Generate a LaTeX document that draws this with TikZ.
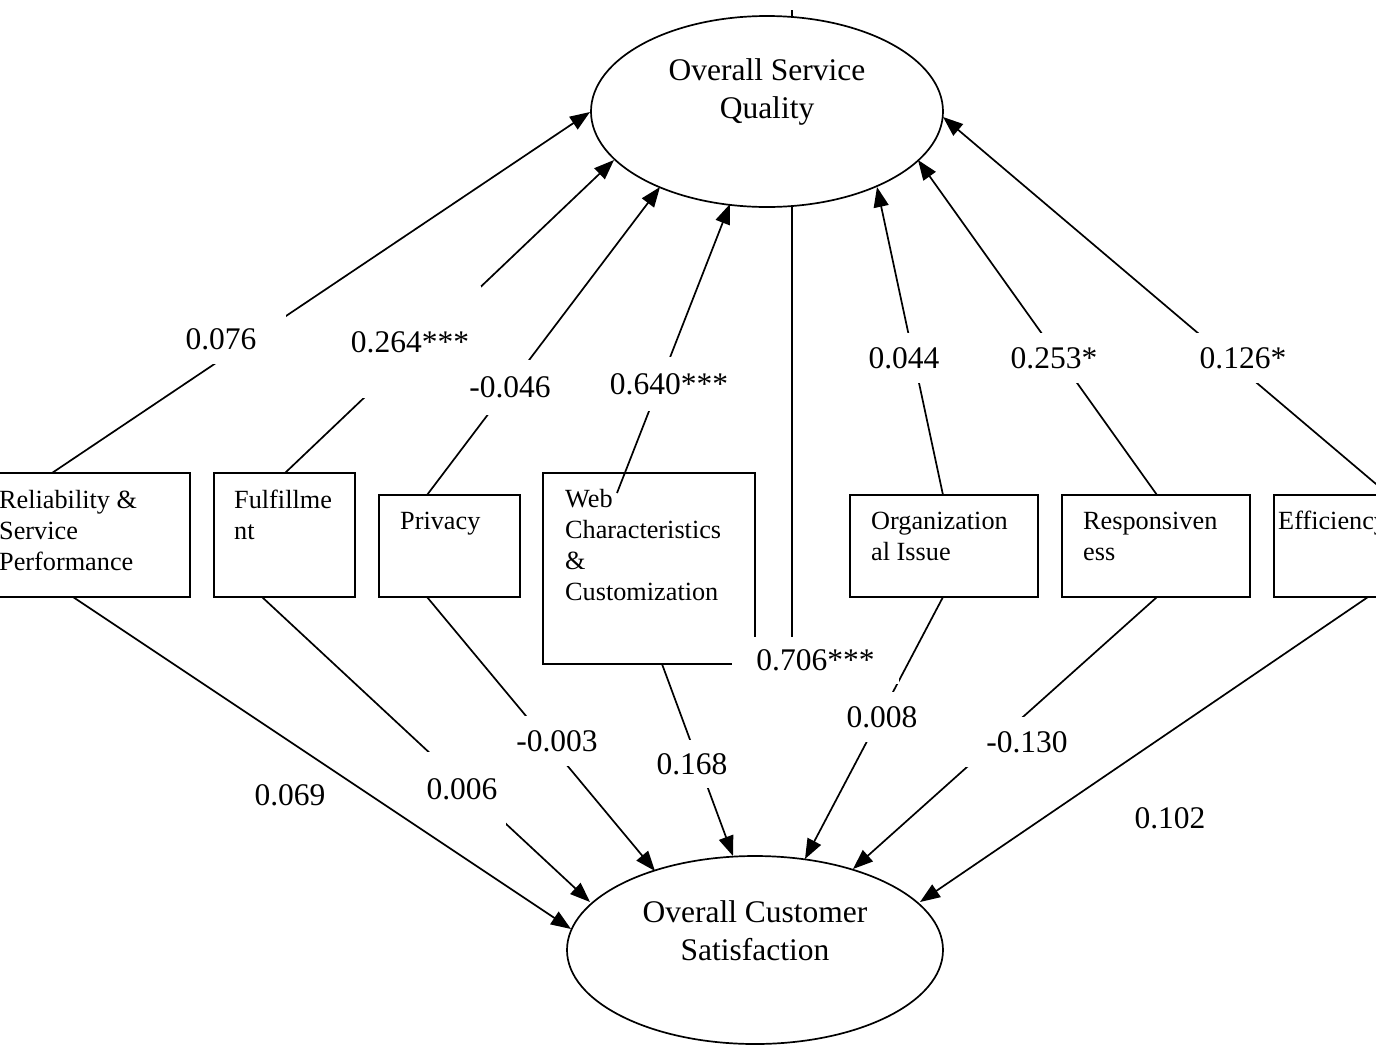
\documentclass[tikz,border=0pt]{standalone}
\usepackage{fontspec}
\setmainfont[Ligatures=CommonOff]{Liberation Serif}
\usetikzlibrary{arrows.meta,shapes.geometric}
\begin{document}
\begin{tikzpicture}[x=1pt,y=-1pt,
  lw/.style={line width=1.7pt},
  box/.style={draw, lw, inner sep=0pt, outer sep=0pt, anchor=north west},
  boxtext/.style={font=\fontsize{26.25}{31}\selectfont, align=left, anchor=north west, inner sep=0pt},
  oval/.style={draw, lw, ellipse, fill=white, inner sep=0pt, outer sep=0pt},
  ovaltext/.style={font=\fontsize{31.5}{38}\selectfont, align=center, inner sep=0pt},
  coef/.style={fill=white, inner sep=0pt, font=\fontsize{31.5}{38}\selectfont},
  link/.style={lw, -{Triangle[length=20pt,width=15pt]}}
]
\useasboundingbox (0,0) rectangle (1376,1045);

% boxes
\node[box, minimum width=220pt, minimum height=124pt] (rel) at (-30,473) {};
\node[box, minimum width=141pt, minimum height=124pt] (ful) at (214,473) {};
\node[box, minimum width=141pt, minimum height=102pt] (pri) at (379,495) {};
\node[box, minimum width=212pt, minimum height=191pt] (web) at (543,473) {};
\node[box, minimum width=188pt, minimum height=102pt] (org) at (850,495) {};
\node[box, minimum width=188pt, minimum height=102pt] (res) at (1062,495) {};
\node[box, minimum width=188pt, minimum height=102pt] (eff) at (1274,495) {};

% ellipses
\coordinate (vtop) at (792,10);
\coordinate (vbot) at (792,637);
\draw[lw] (vtop) -- (vbot);
\node[oval, minimum width=352pt, minimum height=191pt] (osq) at (767,111.5) {};
\node[oval, minimum width=376pt, minimum height=188pt] (ocs) at (755,950) {};
\node[ovaltext] (osqt) at (767,92) {Overall Service\\Quality};
\node[ovaltext] (ocst) at (755,931) {Overall Customer\\Satisfaction};

% anchor points on boxes
\coordinate (relT) at (52,473);   \coordinate (relB) at (73,597);
\coordinate (fulT) at (285,473);  \coordinate (fulB) at (262,597);
\coordinate (priT) at (427,495);  \coordinate (priB) at (427,597);
\coordinate (webT) at (617,493);  \coordinate (webB) at (662,664);
\coordinate (orgT) at (943,495);  \coordinate (orgB) at (943,597);
\coordinate (resT) at (1157,495); \coordinate (resB) at (1157,597);
\coordinate (effT) at (1389,495); \coordinate (effB) at (1368,597);
% arrow tips on ellipses
\coordinate (q1) at (590,112);
\coordinate (q2) at (614,160);
\coordinate (q3) at (660,187);
\coordinate (q4) at (730,204);
\coordinate (q6) at (877,187);
\coordinate (q7) at (918,160);
\coordinate (q8) at (943,117);
\coordinate (s1) at (571,929);
\coordinate (s2) at (590,902);
\coordinate (s3) at (655,871);
\coordinate (s4) at (733,856);
\coordinate (s5) at (805,859);
\coordinate (s6) at (853,869);
\coordinate (s7) at (920,902);

% connectors to service quality
\draw[link] (relT) -- (q1);
\draw[link] (fulT) -- (q2);
\draw[link] (priT) -- (q3);
\draw[link] (webT) -- (q4);
\draw[link] (orgT) -- (q6);
\draw[link] (resT) -- (q7);
\draw[link] (effT) -- (q8);
% connectors to customer satisfaction
\draw[link] (relB) -- (s1);
\draw[link] (fulB) -- (s2);
\draw[link] (priB) -- (s3);
\draw[link] (webB) -- (s4);
\draw[link] (orgB) -- (s5);
\draw[link] (resB) -- (s6);
\draw[link] (effB) -- (s7);

% coefficient labels
\node[coef, minimum width=130pt, minimum height=50pt] (c1) at (221,339) {0.076};
\node[coef, minimum width=142pt, minimum height=112pt] (c2) at (410,342) {0.264***};
\node[coef, minimum width=100pt, minimum height=55pt] (c3) at (510,387) {-0.046};
\node[coef, minimum width=130pt, minimum height=54pt] (c4) at (669,384) {0.640***};
\node[coef, minimum width=167pt, minimum height=47pt] (c5) at (815.5,660.5) {0.706***};
\node[coef, minimum width=90pt, minimum height=50pt] (c6) at (904,358) {0.044};
\node[coef, minimum width=100pt, minimum height=50pt] (c7) at (1054,358) {0.253*};
\node[coef, minimum width=100pt, minimum height=50pt] (c8) at (1243,358) {0.126*};
\node[coef] (d1) at (290,795) {0.069};
\node[coef, minimum width=88pt, minimum height=74pt] (d2) at (462,789) {0.006};
\node[coef, minimum width=90pt, minimum height=50pt] (d3) at (557,741) {-0.003};
\node[coef, minimum width=84pt, minimum height=48pt] (d4) at (692,764) {0.168};
\node[coef, minimum width=90pt, minimum height=50pt] (d5) at (882,717) {0.008};
\node[coef, minimum width=122pt, minimum height=50pt] (d6) at (1027,742) {-0.130};
\node[coef] (d7) at (1170,818) {0.102};

% box texts
\node[boxtext] (relx) at (-1,490) {Reliability \&\\Service\\Performance};
\node[boxtext] (fulx) at (234,490) {Fulfillme\\nt};
\node[boxtext] (prix) at (400,512) {Privacy};
\node[boxtext] (webx) at (565,489) {Web\\Characteristics\\\&\\Customization};
\node[boxtext] (orgx) at (871,512) {Organization\\al Issue};
\node[boxtext] (resx) at (1083,512) {Responsiven\\ess};
\node[boxtext] (effx) at (1278,511) {Efficiency};
\end{tikzpicture}
\end{document}
